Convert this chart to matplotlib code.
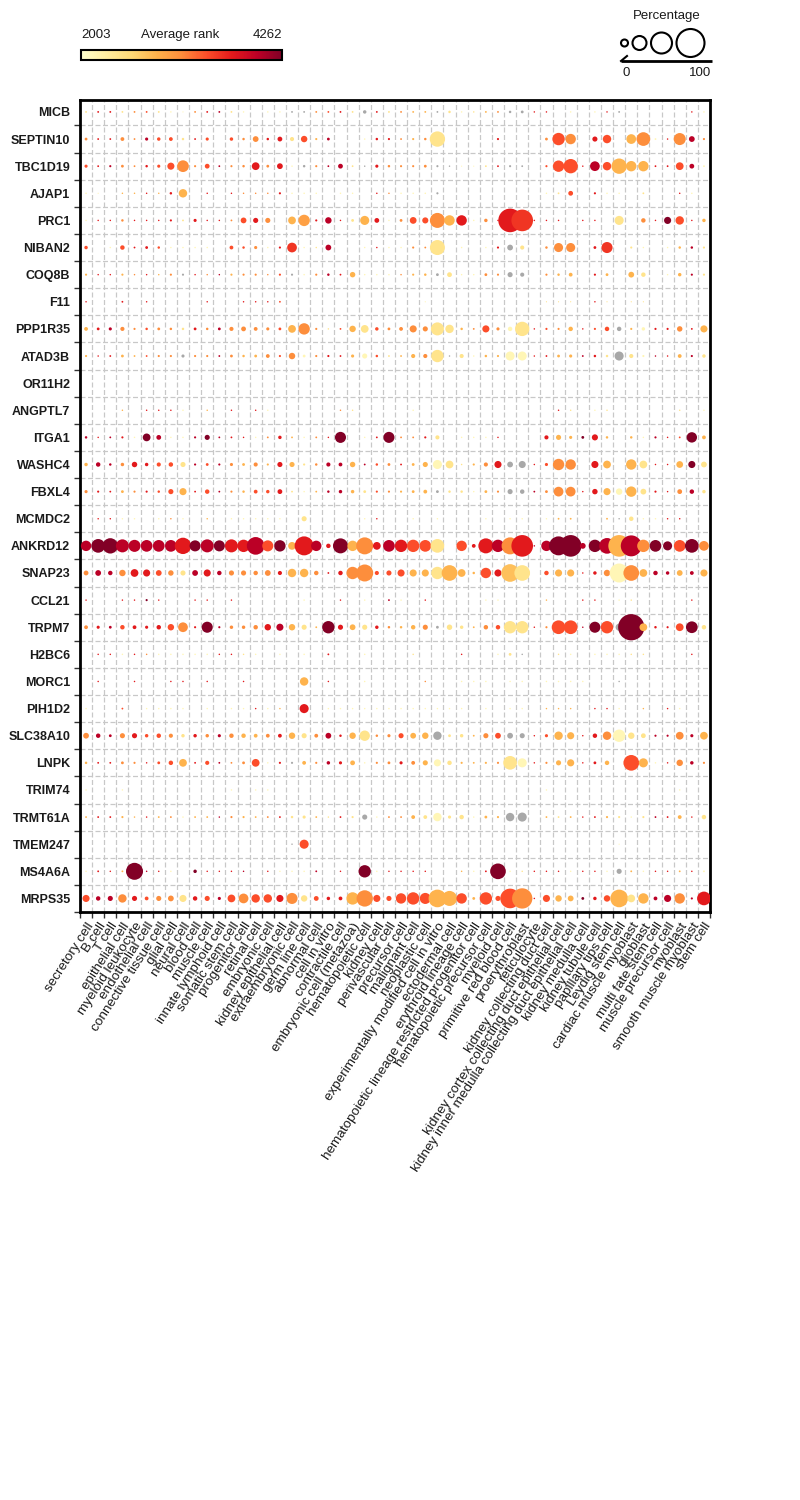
import numpy as np
import matplotlib
matplotlib.use("Agg")
import matplotlib.pyplot as plt
from matplotlib.colors import Normalize, to_rgba
from matplotlib.cm import ScalarMappable

plt.rcParams['font.family'] = ['Liberation Sans', 'DejaVu Sans']

# Genes (rows, top to bottom) and cell types (columns, left to right)
genes = ["MICB", "SEPTIN10", "TBC1D19", "AJAP1", "PRC1", "NIBAN2", "COQ8B", "F11",
         "PPP1R35", "ATAD3B", "OR11H2", "ANGPTL7", "ITGA1", "WASHC4", "FBXL4",
         "MCMDC2", "ANKRD12", "SNAP23", "CCL21", "TRPM7", "H2BC6", "MORC1",
         "PIH1D2", "SLC38A10", "LNPK", "TRIM74", "TRMT61A", "TMEM247", "MS4A6A",
         "MRPS35"]

cell_types = ["secretory cell", "B cell", "T cell", "epithelial cell", "myeloid leukocyte",
              "endothelial cell", "connective tissue cell", "glial cell", "neural cell",
              "blood cell", "muscle cell", "innate lymphoid cell", "somatic stem cell",
              "progenitor cell", "retinal cell", "embryonic cell", "kidney epithelial cell",
              "extraembryonic cell", "germ line cell", "abnormal cell", "cell in vitro",
              "contractile cell", "embryonic cell (metazoa)", "hematopoietic cell",
              "kidney cell", "perivascular cell", "precursor cell", "malignant cell",
              "neoplastic cell", "experimentally modified cell in vitro", "ectodermal cell",
              "erythroid lineage cell", "hematopoietic lineage restricted progenitor cell",
              "hematopoietic precursor cell", "myeloid cell", "primitive red blood cell",
              "proerythroblast", "reticulocyte", "kidney collecting duct cell",
              "kidney cortex collecting duct epithelial cell",
              "kidney inner medulla collecting duct epithelial cell", "kidney medulla cell",
              "kidney tubule cell", "papillary tips cell", "Leydig stem cell",
              "cardiac muscle myoblast", "glioblast", "multi fate stem cell",
              "muscle precursor cell", "myoblast", "smooth muscle myoblast", "stem cell"]

# Percentage of cells (dot size), one row per gene
pct = [
    [4,4,4,4,4,4,4,3,2,4,4,4,4,3,0,3,3,4,4,4,4,4,4,9,4,4, 4,4,4,4,6,3,3,4,4,6,7,3,3,0,3,0,3,3,4,0,0,0,0,0,3,3],
    [7,4,4,10,4,8,9,10,6,4,8,0,9,6,16,6,13,11,18,5,7,0,0,3,6,5, 4,5,6,45,0,0,0,0,5,0,0,0,7,36,30,0,14,24,0,28,40,4,3,35,16,5],
    [8,4,5,7,4,6,8,20,34,5,13,4,5,6,22,7,16,3,6,5,4,13,4,3,8,6, 5,5,7,5,3,2,2,4,4,5,4,0,5,33,42,3,28,24,45,30,30,4,4,22,13,4],
    [3,2,0,3,3,3,3,6,24,0,3,0,3,3,3,3,5,3,3,3,0,3,3,0,3,3, 3,3,3,5,0,0,0,0,0,0,0,0,3,4,13,0,5,3,3,0,4,0,0,3,3,0],
    [3,3,3,6,3,3,3,5,4,8,3,3,4,16,14,14,0,22,33,5,18,3,7,26,13,3, 7,19,17,44,30,30,3,9,3,70,64,3,3,3,0,3,3,0,26,0,12,3,20,24,3,9],
    [9,0,3,12,4,7,6,3,3,3,3,0,10,6,8,3,5,28,3,3,16,0,0,3,3,3, 3,5,4,44,0,3,0,3,5,16,11,0,6,26,26,0,7,32,0,5,3,0,3,6,6,5],
    [5,3,3,5,3,3,3,5,5,3,3,3,5,5,5,3,5,5,3,5,6,4,15,3,3,3, 3,5,6,7,13,3,3,7,5,14,11,0,5,6,10,0,5,7,0,16,12,0,3,9,5,5],
    [3,0,0,4,0,3,0,0,0,0,3,0,0,3,3,3,4,0,0,0,0,0,0,0,0,0, 0,0,2,0,0,0,0,0,0,0,0,0,2,2,2,0,3,2,0,2,2,0,0,0,0,0],
    [10,7,8,11,5,6,7,6,6,7,6,7,11,13,10,8,7,22,33,5,3,4,18,22,9,7, 10,20,14,38,24,6,4,20,8,12,42,3,5,5,12,3,5,12,12,5,9,5,5,15,4,20],
    [5,3,4,7,4,4,5,5,8,5,5,4,7,6,7,10,5,18,7,5,5,4,8,14,6,4, 4,11,11,36,3,11,3,6,5,26,26,3,4,7,8,4,6,6,26,11,5,3,3,10,5,9],
    [0,0,0,0,0,0,0,0,0,0,0,0,0,0,0,0,0,0,0,0,0,0,0,0,0,0, 0,0,0,0,0,0,0,0,0,0,0,0,0,0,0,0,0,0,0,0,0,0,0,0,0,0],
    [0,0,0,3,0,3,3,3,3,0,3,0,3,0,3,3,0,0,0,0,0,3,3,0,0,0, 0,3,0,0,0,0,0,0,0,0,0,0,0,3,3,0,3,3,0,0,0,0,0,3,0,3],
    [6,3,4,5,3,22,13,3,3,5,14,4,4,3,3,4,9,4,3,4,3,32,0,3,4,32, 4,4,5,11,0,3,3,3,3,0,0,0,11,14,8,7,17,6,0,6,3,5,3,4,30,10],
    [9,12,6,9,15,9,11,12,14,5,7,5,8,7,11,5,14,14,5,6,11,10,15,4,6,7, 4,7,14,26,22,3,5,11,20,16,20,3,8,33,30,0,20,22,0,30,22,3,3,19,20,16],
    [8,5,4,7,5,5,6,14,20,4,12,4,5,6,10,9,13,4,3,4,6,9,9,7,5,5, 5,7,10,7,6,6,3,7,5,14,12,4,7,28,28,3,15,20,18,30,16,5,3,13,12,9],
    [0,3,3,3,3,0,3,3,3,0,3,0,3,3,3,3,3,0,14,0,0,0,0,3,3,0, 0,3,0,3,0,0,0,3,0,3,3,0,3,4,4,0,0,4,3,12,3,3,3,3,0,0],
    [30,40,45,38,35,34,34,34,48,32,38,32,38,36,52,32,33,22,56,30,12,44,30,50,22,34, 36,36,34,40,0,30,10,44,36,50,64,3,30,56,64,16,36,46,64,62,36,34,26,34,40,28],
    [13,16,12,18,22,20,16,15,14,16,20,12,14,14,12,16,11,24,24,12,4,12,36,50,11,14, 20,20,20,36,46,22,6,30,20,52,46,0,12,20,20,3,9,18,56,46,22,12,9,16,10,20],
    [3,0,0,3,3,5,3,0,0,3,3,0,3,0,0,0,0,0,3,0,0,3,0,3,0,4, 3,0,3,0,0,0,0,3,3,0,0,0,3,0,0,3,3,0,3,3,0,0,0,0,3,0],
    [10,8,7,12,10,8,12,18,28,5,32,5,9,9,12,18,20,18,14,4,36,14,16,14,9,6, 6,12,14,7,15,9,4,12,12,36,36,3,5,40,40,3,32,36,20,78,22,6,5,22,34,12],
    [0,3,3,3,3,3,3,3,3,3,3,3,3,3,3,0,3,0,3,0,4,0,0,3,0,0, 0,3,0,0,0,3,0,0,3,7,3,0,0,3,3,0,3,3,3,3,3,0,0,0,3,0],
    [0,3,0,0,3,0,0,3,3,0,3,0,0,3,0,0,0,0,24,0,3,0,0,3,0,0, 0,0,3,0,0,3,3,3,0,3,3,0,3,3,3,3,0,0,3,0,0,0,0,0,0,0],
    [3,0,0,4,0,3,3,3,3,0,3,0,3,3,3,3,3,0,26,0,3,3,3,3,3,3, 3,3,3,3,3,3,0,3,0,3,3,0,3,3,3,0,3,3,3,0,3,0,3,3,0,0],
    [16,12,7,14,14,9,12,11,9,9,9,8,12,12,10,10,10,18,14,10,16,6,18,30,6,8, 14,16,18,24,7,9,4,14,16,16,14,3,8,24,20,3,12,24,36,18,13,5,5,22,8,22],
    [6,4,4,7,5,3,7,12,22,4,11,4,4,7,22,3,5,5,10,5,9,8,13,3,5,7, 8,10,14,20,12,5,4,5,5,40,26,3,5,14,20,3,7,12,0,46,26,3,3,18,9,5],
    [3,0,0,3,0,0,0,0,0,0,0,0,3,0,3,3,0,0,0,0,0,0,0,0,0,0, 0,0,0,0,0,0,0,0,0,0,0,0,3,0,0,0,0,0,0,0,0,0,0,3,0,0],
    [4,4,4,5,3,3,4,4,3,4,4,3,5,5,4,4,4,6,8,4,3,4,5,14,3,4, 4,10,10,24,8,12,3,7,5,24,26,0,4,4,4,3,4,5,5,3,5,4,4,10,3,12],
    [0,0,0,0,0,0,0,0,0,0,0,0,0,0,0,0,0,3,26,0,0,0,0,0,0,0, 0,0,0,0,0,0,0,0,0,0,0,0,0,0,0,0,0,0,2,0,0,0,0,0,0,0],
    [3,4,3,4,50,3,3,3,0,9,3,3,3,3,0,3,3,3,3,4,0,3,0,36,3,3, 3,3,3,0,0,3,3,4,46,3,3,3,3,3,3,3,3,3,14,4,3,3,3,4,3,4],
    [20,12,14,24,14,10,14,16,20,12,14,8,22,28,24,24,20,32,18,13,9,10,36,48,20,14, 30,36,32,52,44,30,7,36,14,58,60,3,20,18,16,7,9,18,52,22,30,10,20,30,5,40],
]

# Average rank (dot colour); None = no rank (drawn grey)
rank = [
    [2420,3700,3700,2420,3130,3420,2420,2150,2150,3130,3700,3980,2420,2150,2150,2150,2150,None,None,3130,3420,3700,2420,None,3700,2420,
     3130,2850,2850,None,2420,2150,2420,2850,3130,None,None,3700,3700,2150,2150,2150,2150,3700,None,2150,2150,2150,2150,2150,3700,2150],
    [3130,3700,3700,3130,3130,3980,3420,3420,2420,3700,3420,2150,3420,3130,3130,3700,3700,2420,3420,2850,3980,2150,2150,2150,3700,3700,
     3130,2850,3130,2420,2150,2150,2150,2150,3700,2150,2150,2150,3130,3420,3130,2150,3700,3420,2150,2850,3130,2150,3700,3130,3980,3130],
    [3420,3700,3980,3130,3130,3700,3420,3420,3130,3130,3420,3980,3130,3130,3700,3130,3700,2150,None,3130,3980,3980,2420,None,3700,3130,
     3130,3130,3130,None,None,2150,2150,2420,3700,None,None,2150,3420,3420,3420,3700,3980,3420,2850,2850,2850,3700,3700,3420,3980,2150],
    [2150,2150,2150,2850,2850,3700,2850,3700,2850,2150,3700,2150,3700,3130,3130,3130,3700,2150,2150,2150,2150,2150,2150,2150,3700,3130,
     2150,2150,2150,None,2150,2150,2150,2150,2150,2150,2150,2150,2150,2420,3420,2150,3700,2150,2150,2150,2420,2150,2150,3700,2150,2150],
    [2150,3700,3700,3130,3700,3700,3700,3700,2420,3700,3700,3700,3130,3420,3700,3130,2150,2850,2990,3700,3980,3700,2420,2850,3700,2150,
     3130,3420,3420,3130,2850,3700,2150,3130,3700,3700,3550,3700,3700,3700,2150,3700,3700,2150,2420,2150,3130,3700,4250,3420,3700,2850],
    [3420,2150,2150,3420,3700,3700,3420,2150,2150,2150,2150,2150,3420,3420,3130,2150,3700,3550,2150,2420,3980,2150,2150,2150,3700,2150,
     2150,3130,3130,2420,2150,2150,2150,2150,3700,None,2420,2150,3130,3130,3130,2150,3700,3550,2150,2420,2150,2150,2150,2850,3980,2420],
    [2850,3700,3700,2850,3130,3700,2850,3130,None,3700,3130,3980,2850,3130,3130,3130,3420,None,2150,3130,3980,3700,2850,2150,2150,2150,
     3130,2850,2850,None,2420,2150,2150,3130,3130,None,None,2150,3130,2850,2850,2150,3700,2850,2150,2850,2420,2150,2150,2850,3980,2420],
    [3700,2150,2150,3700,2150,3700,2150,2150,2150,2150,3700,2150,2150,3700,3700,3700,3420,2150,2150,2150,2150,2150,2150,2150,2150,2150,
     2150,2150,2150,2150,2150,2150,2150,2150,2150,2150,2150,2150,2420,2420,2420,2150,3700,2420,2150,2420,2420,2150,2150,2150,2150,2150],
    [2850,3700,3980,3130,3130,3420,3130,3130,2420,3700,3130,3980,3130,3130,3130,3130,3420,2850,3130,3130,2420,3420,2850,2420,3420,3130,
     3130,3130,3130,2420,2420,2850,3130,3420,3130,2150,2420,3700,3420,3130,2850,3700,3420,3420,None,2850,2150,3700,3700,3130,3700,2850],
    [2850,3700,3700,2850,2850,3420,3130,3130,None,3130,3130,3980,3130,2850,2850,3130,3420,3130,2150,3130,3700,3700,2850,2150,3420,2420,
     2850,2850,3130,2420,None,2420,2150,2850,2850,2150,2150,3700,3700,2850,2850,3980,3700,2420,None,2420,2150,3980,3700,2850,3980,2420],
    [2150,2150,2150,2150,2150,2150,2150,2150,2150,2150,2150,2150,2150,2150,2150,2150,2150,2150,2150,2150,2150,2150,2150,2150,2150,2150,
     2150,2150,2150,2150,2150,2150,2150,2150,2150,2150,2150,2150,2150,2150,2150,2150,2150,2150,2150,2150,2150,2150,2150,2150,2150,2150],
    [2150,2150,2150,2850,2150,3700,3700,3700,2150,2150,2850,2150,3700,2150,3700,2150,2150,2150,2150,2150,2150,3130,2420,2150,2150,2150,
     2150,2150,2150,2150,2150,2150,2150,2150,2150,2150,2150,2150,2150,3700,2420,2150,2150,2420,2150,2150,2150,2150,2150,2420,2150,2150],
    [3980,3700,3980,3700,2150,4250,3980,2150,2150,3980,4250,3980,3700,3700,2150,3130,3700,2850,2150,3130,3700,4250,2150,2150,3700,4250,
     3130,3130,3700,2420,2150,2150,2150,2150,3700,2150,2150,2150,3700,2850,2850,4250,3700,2850,2150,2850,2150,3980,3700,3420,4250,2850],
    [2850,3980,3980,3130,3700,3700,3420,3420,2420,3980,3420,3980,3130,2850,3130,2850,3700,2850,2420,3130,3980,3980,2850,3980,3420,3130,
     3700,2850,2850,2150,2420,2420,2850,3130,3700,None,None,3700,3420,3130,3130,2150,3700,2850,2150,2850,2420,3700,3700,2850,4250,2420],
    [3130,3700,3700,2850,3130,3700,3420,3420,2850,3700,3420,3980,3130,2850,3420,3420,3700,2420,2150,2850,3980,3980,2850,2420,3420,3130,
     2850,2850,2850,None,2420,2420,2150,2850,3130,None,None,3980,3130,3130,3130,3700,3700,2850,2150,2850,2420,3700,3700,3130,3980,2420],
    [2150,3700,3700,2150,2150,2150,2150,3130,2150,2150,2850,2150,2150,2150,2150,2150,2150,2150,2420,2150,2150,2150,2150,2150,3700,2150,
     2150,2150,2150,2150,2150,2150,2150,2150,2150,2150,2150,2150,2150,2850,2850,2150,2150,2850,None,2420,2150,2150,3700,3700,2150,2150],
    [3980,4250,4250,3980,3980,3980,3980,3980,3700,4250,3980,4250,3700,3700,3980,3420,4250,2850,3700,3980,3700,4250,2850,3130,3700,3980,
     3700,3420,3420,2420,2150,3420,3700,3700,3980,3130,3700,3980,3980,4250,4250,3980,4250,3980,2850,3980,3130,4250,4250,3420,4250,3130],
    [3130,3980,3980,3130,3700,3700,3420,3130,2420,3980,3700,3980,3130,3130,3130,3130,3700,2850,2850,3130,3700,3700,3130,3130,3420,3420,
     3420,2850,2850,2420,2850,2850,2850,3420,3700,2750,2420,2150,3420,2850,2850,3700,3700,3130,2150,3130,2850,3980,3980,2850,3980,2850],
    [3700,2150,2150,3700,3700,4250,3700,2150,2150,3700,3700,2150,3700,2150,2150,2150,2150,2150,2150,2150,2150,3700,2150,2150,2150,3980,
     2150,2150,3700,2150,2150,2150,2150,2150,2150,2150,2150,2150,2850,2150,2150,3700,3700,2150,2150,2420,2150,2150,2150,2150,3700,2150],
    [3130,3700,3980,3420,3700,3700,3700,3420,3130,3700,4250,3980,3130,3130,3130,3700,3980,2850,2420,2850,4250,3700,2850,2420,3700,3130,
     2850,2850,3130,None,2420,2420,2850,3130,3420,2420,2420,3700,3130,3420,3420,3980,4250,3420,None,4250,2850,3700,3700,3420,4250,2420],
    [2150,3700,3700,2150,3700,3130,2150,2150,2150,2150,2150,3700,3700,2420,2150,2150,2150,2150,2150,2150,3700,2150,2150,2150,2150,2150,
     2150,2420,2150,2150,2150,3700,2150,2150,2150,2420,None,2150,2150,2420,2150,2150,2150,2150,2150,2420,2420,2150,2150,2150,3700,2150],
    [2150,3700,2150,2150,3700,2150,2150,3700,3700,2150,3700,2150,2150,3700,2150,2150,2150,2150,2850,2150,3700,2150,2150,2150,2150,2150,
     2150,2150,3130,2150,2150,2150,2150,2150,2150,2150,2150,2150,2150,2150,2150,2150,2150,2150,None,2150,2150,2150,2150,2150,2150,2150],
    [2150,2150,2150,3420,2150,2150,2150,2150,2150,2150,2150,2150,2150,2150,3700,2150,2850,2150,3700,2150,2150,2150,2150,2150,2150,2150,
     2150,2150,2150,2150,2150,2150,2150,2150,2150,2150,2150,2150,2850,2850,2850,2150,3700,3700,2150,2150,2850,2150,3700,2150,2150,2150],
    [3130,3980,3980,3130,3700,3420,3420,3130,2420,3700,3130,3980,3130,2850,2850,3130,3700,2850,2420,3130,3980,3700,2850,2420,3130,3130,
     3420,2850,2850,None,2420,2420,2850,3130,3420,None,None,3700,3420,2850,2850,3700,3700,3130,2150,2420,2420,3980,3980,3130,3980,2850],
    [2850,3700,3700,3130,3130,3700,3420,3420,2850,3700,3420,3980,3130,3130,3420,2150,3700,None,2850,3130,3980,3700,2850,2150,3130,3130,
     3700,3130,2850,2150,2420,2850,2850,2850,3130,2420,2150,3700,3130,2850,2850,3700,3700,2850,2150,3420,2850,2150,3700,3130,3980,3130],
    [2150,2150,2150,2150,2150,2150,2150,2150,2150,2150,2150,2150,2150,2150,2150,2150,2150,2150,2150,2150,2150,2150,2150,2150,2150,2150,
     2150,2150,2150,2150,2150,2150,2150,2150,2150,2150,2150,2150,2150,2150,2150,2150,2150,2150,2150,2150,2150,2150,2150,2150,2150,2150],
    [2850,3700,3700,2850,2850,3700,2850,3130,2150,2850,2850,3980,3130,2850,2850,3130,3700,2420,2420,2850,2420,3700,2420,None,2150,3130,
     3130,2850,2420,2150,2420,2420,2150,2850,2850,None,None,2150,2850,2420,2850,3700,3700,2850,2420,2150,2420,3980,3700,2850,3700,2420],
    [2150,2150,2150,2150,2150,2150,2150,2150,2150,2150,2150,2150,2150,2150,2150,2150,2150,None,3420,2150,2150,2150,2150,2150,2150,2150,
     2150,2150,2150,2150,2150,2150,2150,2150,2150,2150,2150,2150,2150,2150,2150,2150,2150,2150,2150,2150,2150,2150,2150,2150,2150,2150],
    [2150,3700,3700,2850,4250,3980,3700,2150,2150,4250,3700,3700,3700,3980,2150,3700,2150,2150,2150,3980,2150,3700,2150,4250,2150,3700,
     3700,3700,3700,2150,2150,2850,2150,3700,4250,2150,2420,3700,3700,3700,2150,3700,3700,2150,None,2850,2150,3700,3700,2850,3700,2150],
    [3420,3980,3980,3130,3700,3420,3130,3130,2420,3700,3420,3980,3420,3130,3420,3420,3700,3130,2420,3420,3700,3700,2850,3130,3420,3420,
     3420,3420,3420,2850,2850,3420,2850,3420,3420,3420,3130,3700,3420,2850,2850,4250,3700,3420,2850,2420,2850,3980,3980,3130,3980,3700],
]

rank_min, rank_max = 2003, 4262
legend_pct = [25, 50, 75, 100]


def dot_area(p, scale=0.33, offset=0.5):
    """Marker area (pt^2): diameter (px) grows linearly with the percentage."""
    d_px = scale * np.asarray(p, dtype=float) + offset
    return (d_px * 72 / 100) ** 2


pct_arr = np.array(pct, dtype=float)
rank_arr = np.array(rank, dtype=float)
n_rows, n_cols = pct_arr.shape

cmap = plt.get_cmap('YlOrRd')
norm = Normalize(rank_min, rank_max)

fig = plt.figure(figsize=(8, 15), dpi=100)
ax = fig.add_axes([80 / 800, 1 - 912 / 1500, 630 / 800, 812 / 1500])

# dots, drawn column by column so later ones sit on top
cols, rows = np.nonzero(pct_arr.T > 0)
vals = rank_arr[rows, cols]
face = cmap(norm(np.nan_to_num(vals, nan=rank_min)))
face[np.isnan(vals)] = to_rgba('#a8a8a8')
ax.scatter(cols, rows, s=dot_area(pct_arr[rows, cols]), c=face,
           linewidths=0, zorder=3)

ax.set_xlim(-0.5, n_cols - 0.5)
ax.set_ylim(n_rows - 0.5, -0.44)

ax.set_xticks(np.arange(n_cols))
ax.set_xticklabels(cell_types, rotation=57, ha='right', va='top',
                   rotation_mode='anchor', fontsize=9.7, color='#1a1a1a')
ax.set_yticks(np.arange(n_rows))
ax.set_yticklabels(genes, fontsize=9, fontweight='bold', color='#1a1a1a')
ax.set_xticks(np.arange(-0.5, n_cols), minor=True)
ax.set_yticks(np.arange(0.5, n_rows), minor=True)
ax.tick_params(which='major', length=0)
ax.tick_params(axis='x', which='major', pad=6)
ax.tick_params(axis='y', which='major', pad=7)
ax.tick_params(which='minor', length=4, width=1, color='#333333')
ax.grid(which='minor', color='#c8c8c8', linewidth=0.9, linestyle=(0, (4, 2)), zorder=0)
ax.set_axisbelow(True)
for sp in ax.spines.values():
    sp.set_linewidth(2)

# colour bar (top left)
cax = fig.add_axes([81 / 800, 1 - 60 / 1500, 201 / 800, 10 / 1500])
cb = fig.colorbar(ScalarMappable(norm=norm, cmap=cmap), cax=cax, orientation='horizontal')
cb.set_ticks([])
cb.outline.set_linewidth(1.5)
label_kw = dict(va='center', fontsize=9.5, color='#1a1a1a')
fig.text(81 / 800, 1 - 35 / 1500, str(rank_min), ha='left', **label_kw)
fig.text(180 / 800, 1 - 35 / 1500, 'Average rank', ha='center', **label_kw)
fig.text(282 / 800, 1 - 35 / 1500, str(rank_max), ha='right', **label_kw)

# size legend (top right), drawn in pixel coordinates
lax = fig.add_axes([0, 0, 1, 1], zorder=-1)
lax.set_xlim(0, 800)
lax.set_ylim(1500, 0)
lax.axis('off')
diam = 0.28 * np.array(legend_pct, dtype=float)
left = 621 + np.concatenate([[0], np.cumsum(diam[:-1] + 4.5)])
centers = left + diam / 2
lax.scatter(centers, np.full(len(centers), 43), s=dot_area(legend_pct, scale=0.28, offset=0),
            facecolors='none', edgecolors='black', linewidths=1.5)
lax.plot([621, 712], [61, 61], color='black', lw=2, solid_capstyle='butt')
lax.plot([621, 627], [61, 56], color='black', lw=1.5)
lax.text(667, 16, 'Percentage', ha='center', va='center', fontsize=9.5, color='#1a1a1a')
lax.text(626, 73, '0', ha='center', va='center', fontsize=9.5, color='#1a1a1a')
lax.text(700, 73, '100', ha='center', va='center', fontsize=9.5, color='#1a1a1a')

fig.savefig('out.png', dpi=100)
